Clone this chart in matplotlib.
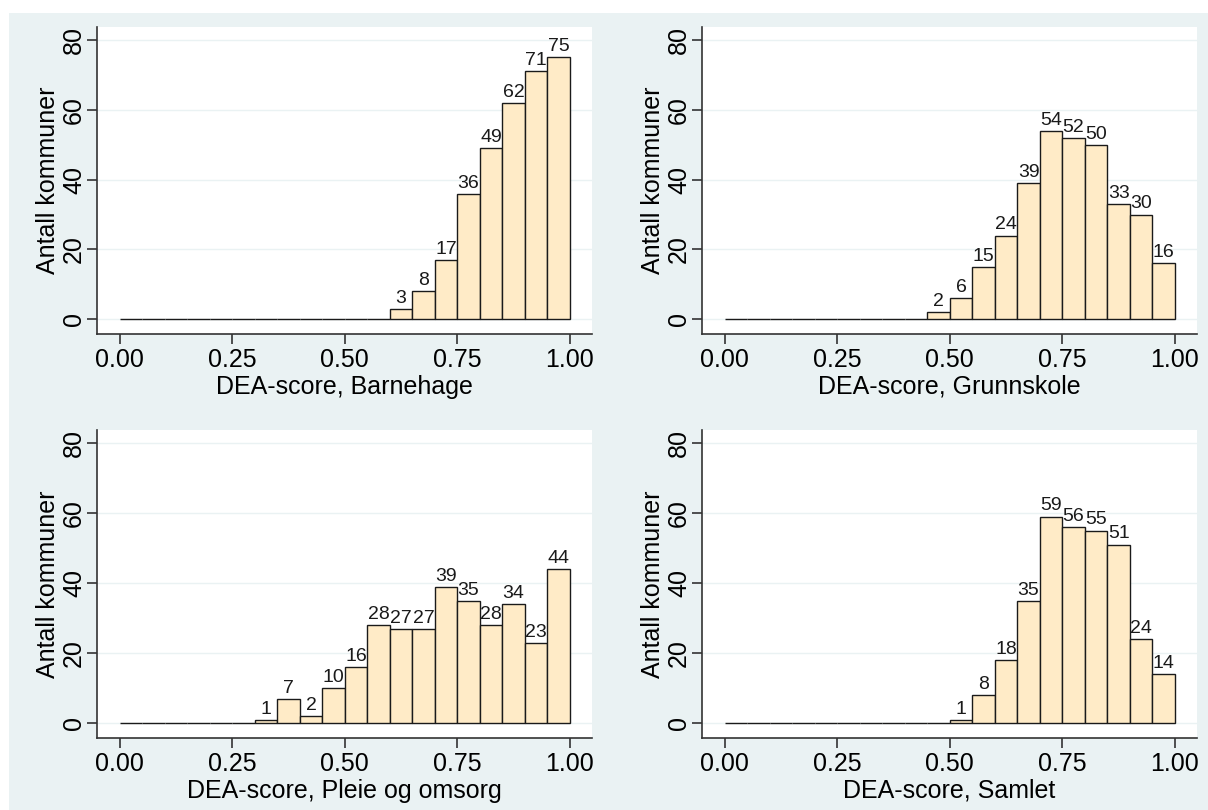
import numpy as np
import matplotlib
matplotlib.use('Agg')
import matplotlib.pyplot as plt
from matplotlib.patches import Rectangle

plt.rcParams['font.family'] = ['Liberation Sans', 'DejaVu Sans']

# 20 bins of width 0.05 from 0 to 1
bin_width = 0.05
bin_left = np.round(np.arange(20) * bin_width, 2)

barnehage = [0, 0, 0, 0, 0, 0, 0, 0, 0, 0, 0, 0, 3, 8, 17, 36, 49, 62, 71, 75]
grunnskole = [0, 0, 0, 0, 0, 0, 0, 0, 0, 2, 6, 15, 24, 39, 54, 52, 50, 33, 30, 16]
pleie = [0, 0, 0, 0, 0, 0, 1, 7, 2, 10, 16, 28, 27, 27, 39, 35, 28, 34, 23, 44]
samlet = [0, 0, 0, 0, 0, 0, 0, 0, 0, 0, 1, 8, 18, 35, 59, 56, 55, 51, 24, 14]

panels = [
    (barnehage, 'DEA-score, Barnehage'),
    (grunnskole, 'DEA-score, Grunnskole'),
    (pleie, 'DEA-score, Pleie og omsorg'),
    (samlet, 'DEA-score, Samlet'),
]

x_ticks = [0.0, 0.25, 0.5, 0.75, 1.0]
x_ticklabels = ['0.00', '0.25', '0.50', '0.75', '1.00']
y_ticks = [0, 20, 40, 60, 80]

bg = '#eaf2f3'
bar_color = '#ffebc7'
ink = '#1a1a1a'

W, H = 1208, 810
fig = plt.figure(figsize=(W / 100, H / 100), dpi=100)
fig.patch.set_facecolor('white')
fig.patches.append(Rectangle((9 / W, 0), 1 - 9 / W, 1 - 13 / H,
                             transform=fig.transFigure, facecolor=bg,
                             edgecolor='none', zorder=-10))

# axes boxes in pixels: left, right, top, bottom
boxes = [
    (97, 592, 27, 334),
    (702, 1197, 27, 334),
    (97, 592, 430, 738),
    (702, 1197, 430, 738),
]

for (counts, xlabel), (l, r, t, b) in zip(panels, boxes):
    ax = fig.add_axes([l / W, 1 - b / H, (r - l) / W, (b - t) / H])
    ax.set_facecolor('white')
    ax.set_xlim(-0.05, 1.049)
    ax.set_ylim(-4.2, 83.7)
    for yv in y_ticks:
        ax.axhline(yv, color=bg, lw=1.0, zorder=0)
    bars = ax.bar(bin_left, counts, width=bin_width, align='edge',
                  color=bar_color, edgecolor=ink, linewidth=1.0, zorder=2)
    labels = [str(c) if c > 0 else '' for c in counts]
    ax.bar_label(bars, labels=labels, padding=1.5, fontsize=14, color=ink)

    for side in ('top', 'right'):
        ax.spines[side].set_visible(False)
    for side in ('left', 'bottom'):
        ax.spines[side].set_color('#333333')
        ax.spines[side].set_linewidth(1.2)

    ax.set_xticks(x_ticks)
    ax.set_xticklabels(x_ticklabels)
    ax.set_yticks(y_ticks)
    ax.set_yticklabels([str(v) for v in y_ticks], rotation=90, va='center')
    ax.tick_params(axis='both', length=7, width=1.2, color='#333333',
                   labelsize=18, labelcolor='black')
    ax.tick_params(axis='x', pad=3)
    ax.tick_params(axis='y', pad=1)
    ax.set_xlabel(xlabel, fontsize=18, labelpad=2)
    ax.set_ylabel('Antall kommuner', fontsize=18, labelpad=1)

fig.savefig('out.png', dpi=100, facecolor=fig.get_facecolor())
